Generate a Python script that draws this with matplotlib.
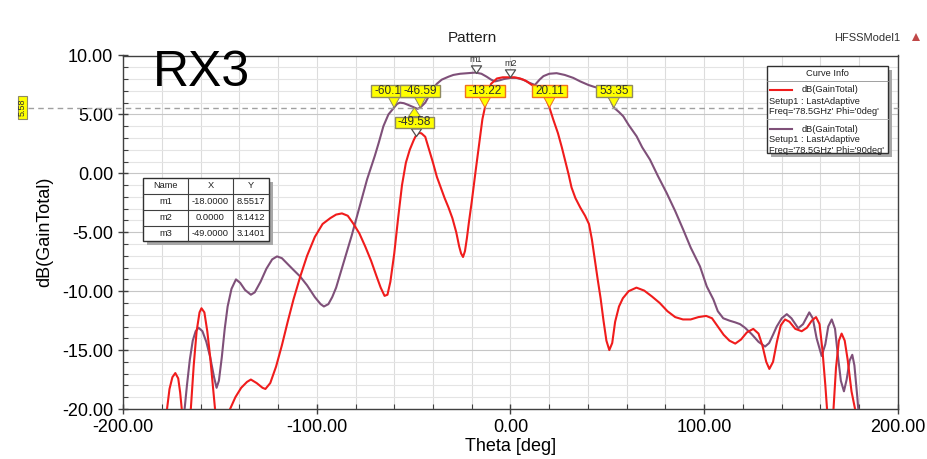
import matplotlib
matplotlib.use("Agg")
import matplotlib.pyplot as plt
from matplotlib.patches import Rectangle, Polygon
from matplotlib.lines import Line2D
from matplotlib.path import Path
from matplotlib.ticker import MultipleLocator, FormatStrFormatter

plt.rcParams['font.family'] = ['Liberation Sans', 'DejaVu Sans']
plt.rcParams['axes.unicode_minus'] = False

# ---------------- data ----------------
theta_phi0 = [
    -180, -177.5, -176, -174.5, -173, -171.5, -170.5, -169.5, -168, -166,
    -165, -163.5, -162, -160.5, -159.5, -158, -156.5, -155, -153.5, -152.5,
    -150, -147, -145, -142, -139, -136, -134, -131, -128, -126.5,
    -124, -121, -118, -115, -112, -108.5, -105, -101, -97, -93,
    -90, -87, -84, -81, -78, -75, -72, -69, -67, -65,
    -63.5, -62, -60, -58, -56, -54, -52, -50, -49, -47.5,
    -46, -44, -42, -40, -38, -36, -34, -32, -30, -28,
    -26.5, -25.5, -24.5, -23.5, -22.5, -21.5, -20, -18, -16, -14.5,
    -13.22, -12, -10, -7, -4, -2, 0, 2, 5, 8,
    11, 13, 16, 18, 20.11, 22, 24.5, 26.5, 28, 30,
    31.5, 33.5, 36, 38.5, 40.5, 42, 43.5, 45, 46.5, 48,
    49.5, 51, 52.5, 54, 56, 58, 61, 65, 69, 73,
    77, 81, 85, 89, 93, 97, 101, 104, 107, 110,
    113, 116, 119, 122, 125.3, 128, 130, 132, 133.6, 135.5,
    137.5, 139.5, 141.7, 144, 147, 150.3, 153, 155.5, 157.7, 159.5,
    161, 162.5, 163.5, 165, 166.6, 168, 169.5, 170.9, 172.5, 174,
    176, 178.2, 180]
gain_phi0 = [
    -24, -20.3, -18.3, -17.3, -16.95, -17.4, -18.6, -20.3, -23, -22,
    -20.0, -16.3, -13.4, -11.8, -11.45, -11.8, -13.4, -15.6, -18.2, -20.0,
    -23, -22, -20.1, -19.0, -18.2, -17.7, -17.5, -17.8, -18.2, -18.3,
    -17.8, -16.4, -14.6, -12.6, -10.7, -8.75, -7.0, -5.4, -4.3, -3.8,
    -3.5, -3.4, -3.6, -4.3, -5.1, -6.2, -7.4, -8.8, -9.7, -10.4,
    -10.3, -9.2, -6.8, -3.8, -1.0, 0.9, 2.0, 2.8, 3.1401, 3.42,
    3.4, 3.1, 2.0, 0.9, -0.3, -1.2, -2.1, -2.9, -3.8, -5.0,
    -6.2, -6.8, -7.1, -6.6, -5.5, -4.2, -2.4, 0.2, 2.7, 4.6,
    5.58, 6.7, 7.6, 8.05, 8.15, 8.15, 8.1412, 8.15, 8.05, 7.85,
    7.5, 7.4, 7.0, 6.5, 5.58, 4.6, 3.4, 2.2, 1.2, -0.1,
    -1.2, -2.1, -2.9, -3.6, -4.3, -5.6, -7.3, -9.0, -10.6, -12.5,
    -14.2, -15.0, -14.4, -12.6, -11.3, -10.6, -10.0, -9.7, -9.95, -10.45,
    -11.0, -11.7, -12.2, -12.4, -12.4, -12.2, -12.1, -12.3, -13.0, -13.7,
    -14.2, -14.45, -14.1, -13.5, -13.2, -13.6, -14.6, -16.0, -16.6, -16.0,
    -14.3, -12.9, -12.4, -12.6, -13.2, -13.4, -13.1, -12.5, -12.2, -12.8,
    -15.0, -18.0, -20.3, -23, -20.3, -16.5, -14.2, -13.6, -14.2, -15.8,
    -18.5, -20.3, -23]

theta_phi90 = [
    -170, -168.5, -167, -165.5, -164, -162.5, -161, -159, -157, -155,
    -153, -151.7, -150.5, -149, -147.5, -146, -144, -141.7, -139.5, -137,
    -134, -132, -129, -126, -123, -120.5, -118, -115, -112, -108.6,
    -105, -101, -98, -96.3, -94, -92, -90, -88, -86, -84,
    -82, -80, -78, -76, -74, -72, -70, -68, -65.6, -63,
    -60.1, -58.5, -57, -55, -52.7, -49.58, -48, -46.59, -44, -42,
    -40.5, -38, -35.5, -32, -29.5, -26, -22, -18, -15, -12.3,
    -10, -8, -5.5, -3.5, 0, 3, 6.5, 9.5, 12.6, 15,
    17, 20, 23.8, 28, 32.4, 36, 40.2, 43, 46.2, 49,
    51.4, 53.35, 56, 58.2, 61, 65.1, 68, 72, 76, 80.6,
    85, 89.2, 93, 97.8, 101.3, 104.7, 107, 109.8, 113, 116,
    118.5, 121, 124.5, 128, 131.4, 133.5, 135.5, 137.4, 140, 142.6,
    145, 148.5, 151, 154.2, 156, 158, 160.6, 162.5, 164, 165.8,
    167.5, 169, 170.5, 172.1, 173.5, 175, 176.4, 177.5, 179, 180]
gain_phi90 = [
    -23, -20.5, -18, -15.8, -14.2, -13.4, -13.1, -13.4, -14.3, -15.6,
    -17.3, -18.2, -17.6, -15.6, -13.2, -11.3, -9.8, -9.0, -9.3, -9.9,
    -10.3, -10.1, -9.2, -8.1, -7.3, -7.05, -7.2, -7.7, -8.2, -8.75,
    -9.5, -10.5, -11.1, -11.3, -11.1, -10.5, -9.7, -8.6, -7.5, -6.4,
    -5.3, -4.1, -2.9, -1.7, -0.5, 0.5, 1.5, 2.6, 4.0, 5.0,
    5.58, 5.9, 6.0, 5.95, 5.8, 5.58, 5.47, 5.58, 6.0, 6.6,
    7.1, 7.6, 7.95, 8.2, 8.35, 8.45, 8.5, 8.5517, 8.45, 8.2,
    7.95, 7.8, 7.9, 8.0, 8.1, 8.1, 7.95, 7.7, 7.5, 7.95,
    8.25, 8.45, 8.5, 8.35, 8.1, 7.8, 7.5, 7.35, 7.2, 6.8,
    6.3, 5.58, 5.2, 4.84, 4.1, 3.14, 2.2, 1.16, -0.2, -1.67,
    -3.2, -4.8, -6.3, -7.9, -9.6, -10.7, -11.7, -12.3, -12.5, -12.65,
    -12.8, -13.1, -13.65, -14.3, -14.7, -14.4, -13.7, -13.0, -12.3, -11.95,
    -12.3, -13.15, -12.8, -11.8, -12.3, -14.0, -15.5, -14.5, -13.0, -12.4,
    -13.2, -15.5, -17.6, -18.5, -17.5, -15.9, -15.4, -16.3, -19.0, -21]

assert len(theta_phi0) == len(gain_phi0)
assert len(theta_phi90) == len(gain_phi90)

curve_labels = ["dB(GainTotal)", "dB(GainTotal)"]
curve_setup = ["Setup1 : LastAdaptive", "Setup1 : LastAdaptive"]
curve_freq = ["Freq='78.5GHz' Phi='0deg'", "Freq='78.5GHz' Phi='90deg'"]

marker_names = ["m1", "m2", "m3"]
marker_theta = [-18.0, 0.0, -49.0]
marker_gain = [8.5517, 8.1412, 3.1401]
marker_shown = [True, True, False]

level = 5.58
cross_theta = [-60.1, -46.59, -49.58, -13.22, 20.11, 53.35]
cross_text = ["-60.1", "-46.59", "-49.58", "-13.22", "20.11", "53.35"]
cross_on_phi0 = [False, False, False, True, True, False]
cross_below = [False, False, True, False, False, False]

x_ticks = [-200, -100, 0, 100, 200]
y_ticks = [-20, -15, -10, -5, 0, 5, 10]

# ---------------- colours ----------------
RED = '#f01c1c'
PURPLE = '#7f5079'
FLAG = '#ffff00'
EDGE_RED = '#f07020'
EDGE_PUR = '#8f8a62'

# ---------------- figure ----------------
W, H = 928, 459
fig = plt.figure(figsize=(W / 100, H / 100), dpi=100)
fig.patch.set_facecolor('white')

L, R, T, B = 123, 898, 55.5, 409
ax = fig.add_axes([L / W, 1 - B / H, (R - L) / W, (B - T) / H])


def fx(px):
    return px / W


def fy(py):
    return 1 - py / H


def rect_px(x0, y0, x1, y1, **kw):
    r = Rectangle((fx(x0), fy(y1)), fx(x1) - fx(x0), fy(y0) - fy(y1),
                  transform=fig.transFigure, **kw)
    fig.add_artist(r)
    return r


def line_px(x0, y0, x1, y1, **kw):
    ln = Line2D([fx(x0), fx(x1)], [fy(y0), fy(y1)], transform=fig.transFigure, **kw)
    fig.add_artist(ln)
    return ln


def text_px(x, y, s, **kw):
    return fig.text(fx(x), fy(y), s, **kw)


ax.set_xlim(-200, 200)
ax.set_ylim(-20, 10)
ax.set_xticks(x_ticks)
ax.set_yticks(y_ticks)
ax.xaxis.set_minor_locator(MultipleLocator(20))
ax.yaxis.set_minor_locator(MultipleLocator(1))
ax.xaxis.set_major_formatter(FormatStrFormatter('%.2f'))
ax.yaxis.set_major_formatter(FormatStrFormatter('%.2f'))

ax.grid(which='major', axis='y', color='#c6c6c6', lw=0.8)
ax.grid(which='minor', axis='y', color='#e4e4e4', lw=0.8)
ax.grid(which='both', axis='x', color='#dcdcdc', lw=0.8)
ax.set_axisbelow(True)
ax.tick_params(which='major', direction='inout', length=7, width=1,
               labelsize=13, pad=3.5, color='#404040')
ax.tick_params(which='minor', direction='in', length=3.5, width=0.8, color='#404040')
for sp in ax.spines.values():
    sp.set_color('#404040')
    sp.set_linewidth(1.0)

# curves
ax.plot(theta_phi90, gain_phi90, color=PURPLE, lw=1.5, zorder=3)
ax.plot(theta_phi0, gain_phi0, color=RED, lw=1.5, zorder=4)

# axis titles
ax.text(0.5, (B - 446.5) / (B - T), "Theta [deg]", transform=ax.transAxes,
        ha='center', va='center', fontsize=13)
ax.text((45 - L) / (R - L), 0.5, "dB(GainTotal)", transform=ax.transAxes,
        ha='center', va='center', rotation=90, fontsize=13)

# reference level line and its tag
ytf = ax.get_yaxis_transform()
ax.plot([(28 - L) / (R - L), 1.0], [level, level], transform=ytf, clip_on=False,
        color='#a0a0a0', lw=1.0, dashes=(4, 3), zorder=5)

px_per_deg = (R - L) / 400.0
px_per_db = (B - T) / 30.0
sx = 1.0 / px_per_deg   # deg per pixel
sy = 1.0 / px_per_db    # dB per pixel

tag_x = (22.5 - L) / (R - L)
tag_hw = 4.5 / (R - L)
ax.add_patch(Rectangle((tag_x - tag_hw, level - 11.5 * sy), 2 * tag_hw, 23 * sy,
                       transform=ytf, clip_on=False, fc=FLAG, ec=EDGE_PUR, lw=0.8, zorder=6))
ax.text(tag_x, level, f"{level:.2f}", transform=ytf, rotation=90, ha='center',
        va='center', fontsize=6.5, color='#303030', clip_on=False, zorder=7)

# crossing flags
renderer = fig.canvas.get_renderer()
for i, (xc, s, on0, below) in enumerate(zip(cross_theta, cross_text, cross_on_phi0, cross_below)):
    ec = EDGE_RED if on0 else EDGE_PUR
    z = 10 + i
    if below:
        tri = [(xc, level), (xc - 6 * sx, level - 9 * sy), (xc + 6 * sx, level - 9 * sy)]
        ty = level - 14.5 * sy
        y0, y1 = level - 20 * sy, level - 9 * sy
    else:
        tri = [(xc, level), (xc - 6 * sx, level + 11 * sy), (xc + 6 * sx, level + 11 * sy)]
        ty = level + 16.8 * sy
        y0, y1 = level + 11 * sy, level + 23 * sy
    ax.add_patch(Polygon(tri, closed=True, fc=FLAG, ec=ec, lw=0.7, zorder=z))
    if i == 0:
        # partly covered by the neighbouring flag
        t = ax.text(xc - 20 * sx, ty, s, ha='left', va='center', fontsize=8.5,
                    color='#303030', zorder=z + 0.5)
        bx0, bx1 = xc - 23 * sx, xc + 21 * sx
    else:
        t = ax.text(xc, ty, s, ha='center', va='center', fontsize=8.5,
                    color='#303030', zorder=z + 0.5)
        wpx = t.get_window_extent(renderer).width
        bx0, bx1 = xc - (wpx / 2 + 3) * sx, xc + (wpx / 2 + 3) * sx
    ax.add_patch(Rectangle((bx0, y0), bx1 - bx0, y1 - y0, fc=FLAG, ec=ec, lw=1.0,
                           zorder=z + 0.2))

# marker triangles (tip on the data point)
tri_path = Path([(-0.8, 1.2), (0.8, 1.2), (0.0, 0.0), (-0.8, 1.2)],
                [Path.MOVETO, Path.LINETO, Path.LINETO, Path.CLOSEPOLY])
for name, mt, mg, shown in zip(marker_names, marker_theta, marker_gain, marker_shown):
    ax.plot([mt], [mg], marker=tri_path, ms=11, mfc='white', mec='#505050',
            mew=0.9, ls='none', zorder=8, clip_on=False)
    if shown:
        ax.text(mt, mg + 13.5 * sy, name, ha='center', va='center', fontsize=6.5,
                color='#303030', zorder=8, clip_on=False)

# ---------------- header texts ----------------
text_px(472, 38, "Pattern", ha='center', va='center', fontsize=11, color='#202020')
text_px(867, 38, "HFSSModel1", ha='center', va='center', fontsize=8, color='#303030')
fig.add_artist(Polygon([(fx(912), fy(41)), (fx(920), fy(41)), (fx(916), fy(33))],
                       closed=True, transform=fig.transFigure, fc='#c04848', ec='none'))
text_px(153, 73, "RX3", ha='left', va='center', fontsize=36, color='black')

# ---------------- curve info box ----------------
lx0, ly0, lx1, ly1 = 767, 66, 888, 153
rect_px(lx0 + 4, ly0 + 4, lx1 + 4, ly1 + 4, fc='#a8a8a8', ec='none', zorder=20)
rect_px(lx0, ly0, lx1, ly1, fc='white', ec='#303030', lw=1.0, zorder=21)
text_px((lx0 + lx1) / 2, 74, "Curve Info", ha='center', va='center', fontsize=6.7,
        color='#202020', zorder=22)
line_px(lx0, 81, lx1, 81, color='#909090', lw=0.6, zorder=22)
entry_colors = [RED, PURPLE]
for k in range(2):
    y = 90 + k * 39
    line_px(770, y, 792, y, color=entry_colors[k], lw=1.5, zorder=22)
    text_px(802, y, curve_labels[k], ha='left', va='center', fontsize=6.7,
            color='#202020', zorder=22)
    text_px(769, y + 11, curve_setup[k], ha='left', va='center', fontsize=6.7,
            color='#202020', zorder=22)
    text_px(769, y + 21.5, curve_freq[k], ha='left', va='center', fontsize=6.7,
            color='#202020', zorder=22)
line_px(lx0, 119, lx1, 119, color='#b0b0b0', lw=0.6, zorder=22)

# ---------------- marker table ----------------
col_x = [143, 188, 233, 269]
row_y = [178, 194, 210, 226, 241]
rect_px(col_x[0] + 4, row_y[0] + 4, col_x[-1] + 4, row_y[-1] + 4, fc='#a8a8a8',
        ec='none', zorder=20)
rect_px(col_x[0], row_y[0], col_x[-1], row_y[-1], fc='white', ec='#303030', lw=1.0,
        zorder=21)
for cx in col_x[1:-1]:
    line_px(cx, row_y[0], cx, row_y[-1], color='#404040', lw=0.8, zorder=22)
for ry in row_y[1:-1]:
    line_px(col_x[0], ry, col_x[-1], ry, color='#404040', lw=0.8, zorder=22)
rows = [["Name", "X", "Y"]] + [[n, f"{t:.4f}", f"{g:.4f}"]
                                for n, t, g in zip(marker_names, marker_theta, marker_gain)]
for r, cells in enumerate(rows):
    yc = (row_y[r] + row_y[r + 1]) / 2
    for c, s in enumerate(cells):
        xc = (col_x[c] + col_x[c + 1]) / 2
        text_px(xc, yc, s, ha='center', va='center', fontsize=6.7, color='#202020',
                zorder=23)

fig.savefig("out.png", dpi=100, facecolor='white')
